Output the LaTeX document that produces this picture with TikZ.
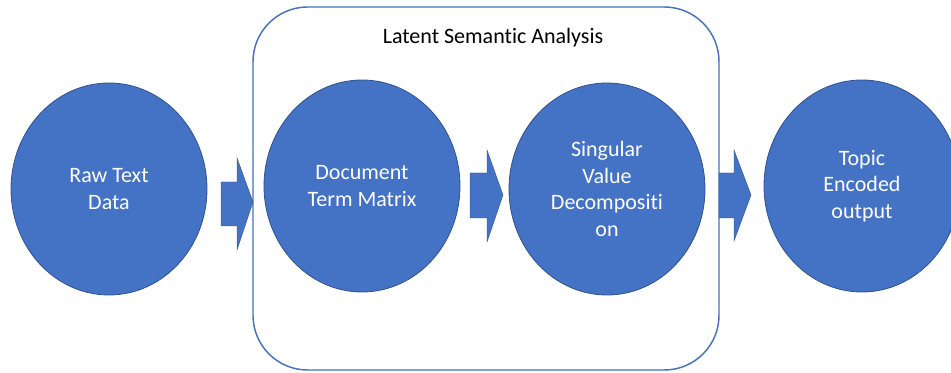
\documentclass[tikz,border=0pt]{standalone}
\usepackage{fontspec}
\setmainfont[Ligatures={NoCommon,NoRare}]{Carlito}
\usetikzlibrary{shapes.geometric}
\definecolor{obl}{HTML}{4472C4}
\definecolor{obd}{HTML}{2F528F}
\begin{document}
\begin{tikzpicture}[x=0.75pt,y=-0.75pt,
  blob/.style={ellipse, fill=obl, draw=obd, line width=0.6pt, inner sep=0pt,
    minimum width=147pt, minimum height=159pt, text=white, align=center,
    font=\fontsize{16.5}{19.8}\selectfont},
  blockarrow/.style={fill=obl, draw=obd, line width=0.3pt}]
\clip (0,0) rectangle (951,373);
\useasboundingbox (0,0) rectangle (951,373);
\draw[obl, line width=1.1pt, rounded corners=41pt] (253,7) rectangle (719,370);
\node[font=\fontsize{16.5}{19.8}\selectfont] (title) at (493,38) {Latent Semantic Analysis};
\node[blob] (raw) at (109,189) {Raw Text\\Data};
\node[blob] (dtm) at (362,186) {Document\\Term Matrix};
\node[blob] (svd) at (607,189) {Singular\\Value\\Decompositi\\on};
\node[blob] (topic) at (862,186) {Topic\\Encoded\\output};
\filldraw[blockarrow] (221,182) -- (237,182) -- (237,158) -- (253,202) -- (237,250) -- (237,226) -- (221,226) -- cycle;
\filldraw[blockarrow] (470,173) -- (487,173) -- (487,150) -- (503,195) -- (487,242) -- (487,218) -- (470,218) -- cycle;
\filldraw[blockarrow] (719,173) -- (734,173) -- (734,150) -- (751,195) -- (734,241) -- (734,218) -- (719,218) -- cycle;
\end{tikzpicture}
\end{document}
